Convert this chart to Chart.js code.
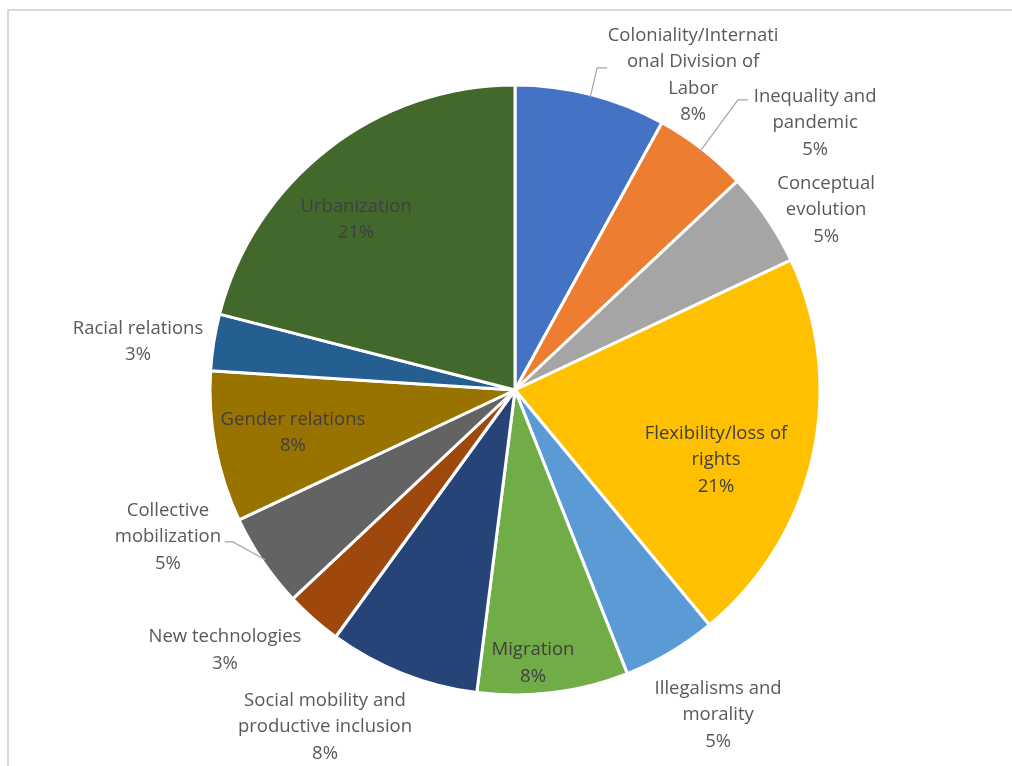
<!DOCTYPE html>
<html>
<head>
<meta charset="utf-8">
<script src="https://cdn.jsdelivr.net/npm/chart.js@4.4.1/dist/chart.umd.min.js"></script>
<style>
  html, body { margin: 0; padding: 0; background: #ffffff; }
  #wrap { position: relative; width: 1012px; height: 766px; overflow: hidden; }
  #frame { position: absolute; left: 7px; top: 9px; width: 1100px; height: 900px;
           border-left: 2px solid #d9d9d9; border-top: 2px solid #d9d9d9; box-sizing: border-box; }
  canvas { position: absolute; left: 0; top: 0; }
</style>
</head>
<body>
<div id="wrap">
  <div id="frame"></div>
  <canvas id="pie" width="1012" height="766"></canvas>
</div>
<script>
// Topics and their shares (%)
const topics = [
  ['Coloniality/Internati', 'onal Division of', 'Labor'],
  ['Inequality and', 'pandemic'],
  ['Conceptual', 'evolution'],
  ['Flexibility/loss of', 'rights'],
  ['Illegalisms and', 'morality'],
  ['Migration'],
  ['Social mobility and', 'productive inclusion'],
  ['New technologies'],
  ['Collective', 'mobilization'],
  ['Gender relations'],
  ['Racial relations'],
  ['Urbanization']
];
const shares = [8, 5, 5, 21, 5, 8, 8, 3, 5, 8, 3, 21];
const sliceColors = ['#4472C4', '#ED7D31', '#A5A5A5', '#FFC000', '#5B9BD5', '#70AD47',
                     '#264478', '#9E480E', '#636363', '#997300', '#255E91', '#43682B'];

// Label placement, in units of the pie radius from its centre (block centre of the text)
const labelLayout = [
  { dx: 0.584, dy: -1.039, inside: false, leader: [[0.269, -1.056], [0.302, -1.056]] },
  { dx: 0.984, dy: -0.882, inside: false, leader: [[0.731, -0.951], [0.764, -0.951]] },
  { dx: 1.020, dy: -0.597, inside: false },
  { dx: 0.659, dy: 0.223, inside: true },
  { dx: 0.666, dy: 1.059, inside: false },
  { dx: 0.059, dy: 0.889, inside: true },
  { dx: -0.623, dy: 1.098, inside: false },
  { dx: -0.951, dy: 0.846, inside: false },
  { dx: -1.138, dy: 0.475, inside: false, leader: [[-0.925, 0.498], [-0.952, 0.498]] },
  { dx: -0.728, dy: 0.134, inside: true },
  { dx: -1.236, dy: -0.164, inside: false },
  { dx: -0.521, dy: -0.564, inside: true }
];

const LINE_H = 26.5;
const FONT = '18.5px "Open Sans", sans-serif';

const sliceLabels = {
  id: 'sliceLabels',
  afterDatasetsDraw(chart) {
    const ctx = chart.ctx;
    const arcs = chart.getDatasetMeta(0).data;
    ctx.save();
    ctx.font = FONT;
    ctx.textAlign = 'center';
    ctx.textBaseline = 'middle';
    arcs.forEach((arc, i) => {
      const { x, y, outerRadius: r, startAngle, endAngle } = arc;
      const lay = labelLayout[i];
      if (lay.leader) {
        const mid = (startAngle + endAngle) / 2;
        ctx.strokeStyle = '#a6a6a6';
        ctx.lineWidth = 1.2;
        ctx.beginPath();
        ctx.moveTo(x + Math.cos(mid) * r * 0.99, y + Math.sin(mid) * r * 0.99);
        lay.leader.forEach(p => ctx.lineTo(x + p[0] * r, y + p[1] * r));
        ctx.stroke();
      }
      const lines = topics[i].concat([shares[i] + '%']);
      const cx = x + lay.dx * r;
      const cy = y + lay.dy * r + 2;
      const top = cy - (lines.length - 1) * LINE_H / 2;
      ctx.fillStyle = lay.inside ? '#404040' : '#595959';
      lines.forEach((t, k) => ctx.fillText(t, cx, top + k * LINE_H));
    });
    ctx.restore();
  }
};

new Chart(document.getElementById('pie'), {
  type: 'pie',
  data: {
    labels: topics.map(t => t.join(' ')),
    datasets: [{
      data: shares,
      backgroundColor: sliceColors,
      borderColor: '#ffffff',
      borderWidth: 3,
      hoverOffset: 0
    }]
  },
  options: {
    responsive: false,
    animation: false,
    radius: 305,
    layout: { padding: { left: 18, right: 0, top: 14, bottom: 0 } },
    plugins: {
      legend: { display: false },
      tooltip: { enabled: false }
    }
  },
  plugins: [sliceLabels]
});
</script>
</body>
</html>
